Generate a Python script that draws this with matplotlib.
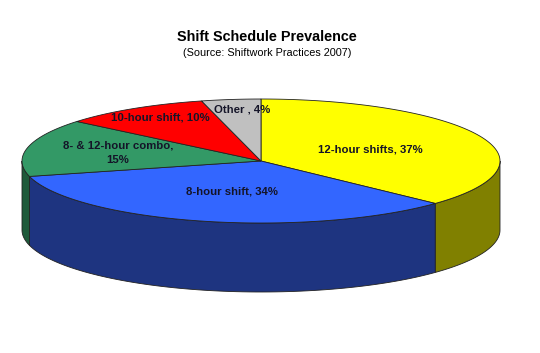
import numpy as np
import matplotlib.pyplot as plt
from matplotlib.patches import Polygon

plt.rcParams["font.family"] = ["Liberation Sans", "DejaVu Sans"]

labels = ["12-hour shifts, 37%", "8-hour shift, 34%", "8- & 12-hour combo,\n15%",
          "10-hour shift, 10%", "Other , 4%"]
values = [37, 34, 15, 10, 4]
top_colors = ["#FFFF00", "#3366FF", "#339966", "#FF0000", "#C0C0C0"]
side_colors = ["#808000", "#1E3480", "#1E5A3A", "#800000", "#707070"]
label_pos = [(370, 150), (232, 192), (118, 153), (160, 118), (242, 110)]

cx, cy = 261, 161
a, b = 239, 62
depth = 69


def pt(theta_deg, dy=0):
    t = np.radians(theta_deg)
    return cx + a * np.sin(t), cy - b * np.cos(t) + dy


fig = plt.figure(figsize=(5.4, 3.53), dpi=100)
ax = fig.add_axes([0, 0, 1, 1])
ax.set_xlim(0, 540)
ax.set_ylim(353, 0)
ax.axis("off")

total = sum(values)
starts = np.cumsum([0] + values[:-1]) / total * 360
ends = np.cumsum(values) / total * 360

# side walls, only the front half is visible
for s, e, c in zip(starts, ends, side_colors):
    lo, hi = max(s, 90), min(e, 270)
    if hi <= lo:
        continue
    th = np.linspace(lo, hi, 80)
    top = [pt(t) for t in th]
    bot = [pt(t, depth) for t in th[::-1]]
    ax.add_patch(Polygon(top + bot, closed=True, facecolor=c,
                         edgecolor="#222222", linewidth=0.6))

# top faces
for s, e, c in zip(starts, ends, top_colors):
    th = np.linspace(s, e, 120)
    poly = [(cx, cy)] + [pt(t) for t in th]
    ax.add_patch(Polygon(poly, closed=True, facecolor=c,
                         edgecolor="#222222", linewidth=0.6))

for lab, (x, y) in zip(labels, label_pos):
    ax.text(x, y, lab, ha="center", va="center", fontsize=8.2,
            fontweight="bold", color="#141428", linespacing=1.6)

ax.text(267, 37, "Shift Schedule Prevalence", ha="center", va="center",
        fontsize=10.4, fontweight="bold")
ax.text(267, 53, "(Source: Shiftwork Practices 2007)", ha="center",
        va="center", fontsize=7.8)

fig.savefig("out.png", dpi=100)
